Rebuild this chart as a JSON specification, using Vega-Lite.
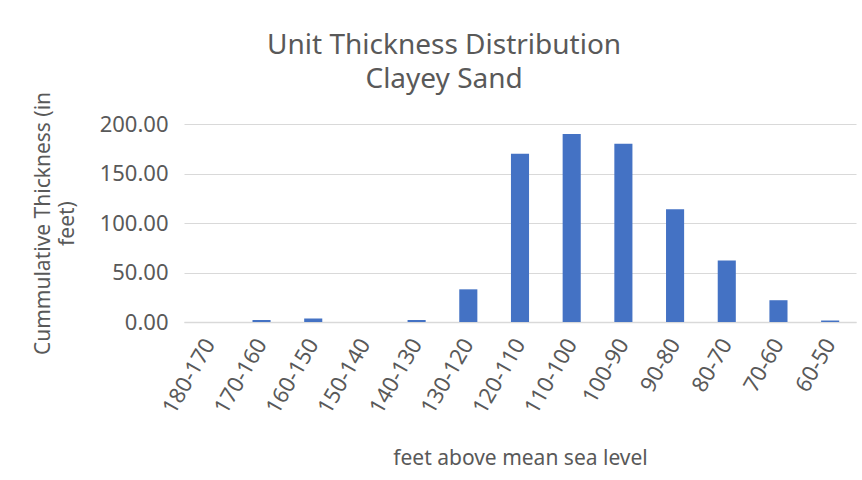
{
  "$schema": "https://vega.github.io/schema/vega-lite/v6.json",
  "autosize": {"type": "none"},
  "padding": {"left": 184, "top": 124, "right": 6, "bottom": 158},
  "width": 672,
  "height": 198,
  "background": "white",
  "title": {
    "text": ["Unit Thickness Distribution", "Clayey Sand"],
    "anchor": "middle",
    "frame": "bounds",
    "font": "Noto Sans",
    "fontSize": 28,
    "fontWeight": "normal",
    "color": "#595959",
    "lineHeight": 34,
    "offset": -3
  },
  "data": {
    "values": [
      {"range": "180-170", "thickness": 0},
      {"range": "170-160", "thickness": 2},
      {"range": "160-150", "thickness": 3.5},
      {"range": "150-140", "thickness": 0},
      {"range": "140-130", "thickness": 2},
      {"range": "130-120", "thickness": 33},
      {"range": "120-110", "thickness": 170},
      {"range": "110-100", "thickness": 190},
      {"range": "100-90", "thickness": 180},
      {"range": "90-80", "thickness": 114},
      {"range": "80-70", "thickness": 62},
      {"range": "70-60", "thickness": 22},
      {"range": "60-50", "thickness": 1.5}
    ]
  },
  "mark": {"type": "bar", "color": "#4472C4"},
  "encoding": {
    "x": {
      "field": "range",
      "type": "nominal",
      "sort": null,
      "scale": {"paddingInner": 0.65, "paddingOuter": 0.325},
      "axis": {
        "title": "feet above mean sea level",
        "titleFont": "Noto Sans",
        "titleFontSize": 21,
        "titleFontWeight": "normal",
        "titleColor": "#595959",
        "titlePadding": 30,
        "labelAngle": -60,
        "labelFont": "Noto Sans",
        "labelFontSize": 22,
        "labelColor": "#595959",
        "labelPadding": 18,
        "ticks": false,
        "domainColor": "#D9D9D9",
        "domainWidth": 1.5
      }
    },
    "y": {
      "field": "thickness",
      "type": "quantitative",
      "scale": {"domain": [0, 200], "nice": false},
      "axis": {
        "title": ["Cummulative Thickness (in", "feet)"],
        "titleFont": "Noto Sans",
        "titleFontSize": 21,
        "titleFontWeight": "normal",
        "titleColor": "#595959",
        "titlePadding": 22,
        "titleLineHeight": 24,
        "values": [0, 50, 100, 150, 200],
        "format": ".2f",
        "labelFont": "Noto Sans",
        "labelFontSize": 22,
        "labelColor": "#595959",
        "labelPadding": 16,
        "ticks": false,
        "domain": false,
        "gridColor": "#D9D9D9",
        "gridWidth": 1
      }
    }
  },
  "config": {"view": {"stroke": null}}
}
